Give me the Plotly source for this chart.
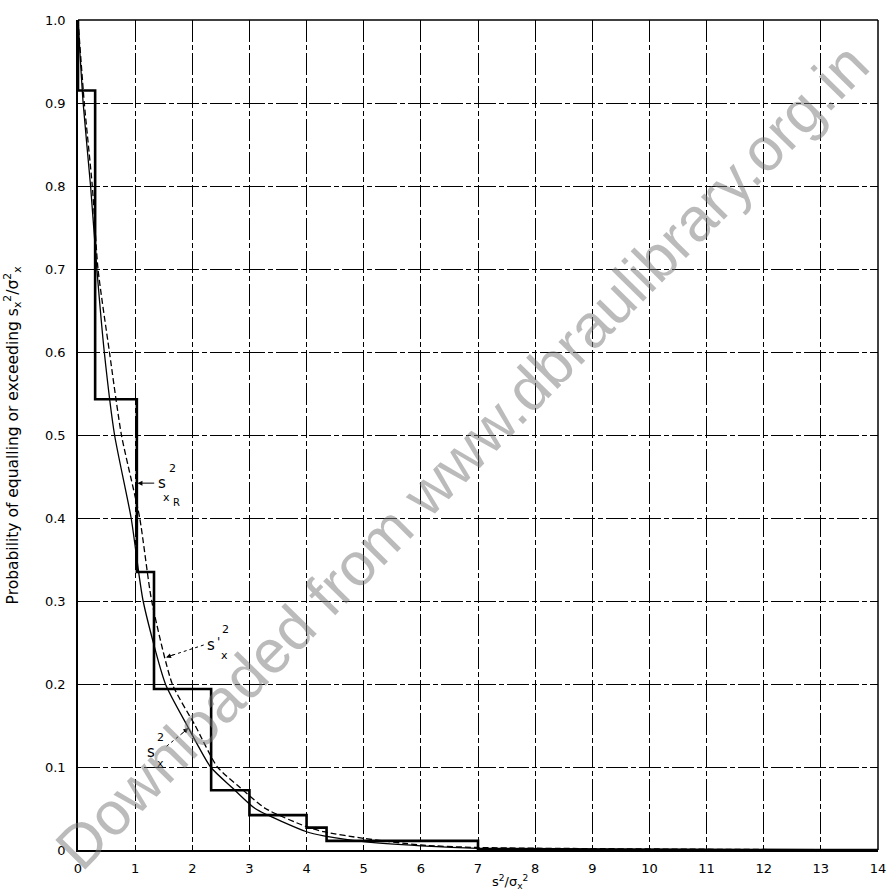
import plotly.graph_objects as go

# ---------------- data ----------------
x_ticks = list(range(0, 15))
y_ticks = [0, 0.1, 0.2, 0.3, 0.4, 0.5, 0.6, 0.7, 0.8, 0.9, 1.0]
y_tick_text = ["0", "0.1", "0.2", "0.3", "0.4", "0.5", "0.6", "0.7", "0.8", "0.9", "1.0"]

# step function s^2_xR
step_x = [0, 0, 0.30, 1.03, 1.33, 2.33, 3.00, 4.00, 4.35, 7.0, 14]
step_y = [1.0, 0.915, 0.543, 0.335, 0.194, 0.072, 0.042, 0.027, 0.011, 0.0, 0.0]

# solid curve s^2_x
solid_x = [0, 0.09, 0.22, 0.33, 0.46, 0.64, 0.93, 1.14, 1.53, 1.91, 2.32, 2.70, 3.10, 4.00, 4.30, 5.0, 6.0, 7.0, 14]
solid_y = [1.0, 0.9, 0.8, 0.7, 0.6, 0.5, 0.4, 0.3, 0.2, 0.15, 0.1, 0.075, 0.05, 0.022, 0.017, 0.010, 0.005, 0.002, 0.0]

# dashed curve s'^2_x
dashed_x = [0, 0.11, 0.25, 0.35, 0.55, 0.76, 1.08, 1.29, 1.65, 2.05, 2.44, 2.84, 3.28, 4.00, 4.30, 5.0, 6.0, 7.0, 14]
dashed_y = [1.0, 0.9, 0.8, 0.7, 0.6, 0.5, 0.4, 0.3, 0.2, 0.15, 0.1, 0.075, 0.05, 0.028, 0.022, 0.014, 0.006, 0.003, 0.0]

x_title = "s<sup>2</sup>/σ<sub>x</sub><sup>2</sup>"
y_title = "Probability of equalling or exceeding s<sub>x</sub><sup>2</sup>/σ<sup>2</sup><sub>x</sub>"
watermark = "Downloaded from www.dbraulibrary.org.in"

FONT = "DejaVu Sans"

fig = go.Figure()

fig.add_trace(go.Scatter(x=solid_x, y=solid_y, mode="lines",
                         line=dict(color="black", width=1.3, shape="spline", smoothing=0.6),
                         hoverinfo="skip", showlegend=False))
fig.add_trace(go.Scatter(x=dashed_x, y=dashed_y, mode="lines",
                         line=dict(color="black", width=1.3, dash="6px,3px", shape="spline", smoothing=0.6),
                         hoverinfo="skip", showlegend=False))
fig.add_trace(go.Scatter(x=step_x, y=step_y, mode="lines",
                         line=dict(color="black", width=2.6, shape="hv"),
                         hoverinfo="skip", showlegend=False))

annotations = []

def piece(x, y, text, size, dx=0, dy=0):
    annotations.append(dict(x=x, y=y, xref="x", yref="y", text=text, showarrow=False,
                            xshift=dx, yshift=dy, xanchor="center", yanchor="middle",
                            font=dict(family=FONT, size=size, color="black")))

# label s^2_xR with solid arrow
annotations.append(dict(x=1.04, y=0.442, ax=1.36, ay=0.442, xref="x", yref="y", axref="x", ayref="y",
                        text="", showarrow=True, arrowhead=2, arrowsize=1, arrowwidth=1,
                        arrowcolor="black"))
piece(1.47, 0.442, "s", 15, 0, 0)
piece(1.47, 0.442, "2", 11, 10, 15)
piece(1.47, 0.442, "x", 11, 4, -14)
piece(1.47, 0.442, "R", 10, 14, -19)

# label s'^2_x with dotted arrow
fig.add_trace(go.Scatter(x=[2.2, 1.62], y=[0.247, 0.234], mode="lines",
                         line=dict(color="black", width=1, dash="dot"),
                         hoverinfo="skip", showlegend=False))
annotations.append(dict(x=1.54, y=0.232, ax=1.70, ay=0.236, xref="x", yref="y", axref="x", ayref="y",
                        text="", showarrow=True, arrowhead=2, arrowsize=1, arrowwidth=1,
                        arrowcolor="black"))
piece(2.33, 0.247, "s", 15, 0, 0)
piece(2.33, 0.247, "'", 12, 7, 3)
piece(2.33, 0.247, "2", 11, 14, 15)
piece(2.33, 0.247, "x", 11, 13, -11)

# label s^2_x with dotted arrow
fig.add_trace(go.Scatter(x=[1.55, 1.85], y=[0.125, 0.142], mode="lines",
                         line=dict(color="black", width=1, dash="dot"),
                         hoverinfo="skip", showlegend=False))
annotations.append(dict(x=1.93, y=0.147, ax=1.80, ay=0.139, xref="x", yref="y", axref="x", ayref="y",
                        text="", showarrow=True, arrowhead=2, arrowsize=1, arrowwidth=1,
                        arrowcolor="black"))
piece(1.28, 0.118, "s", 15, 0, 0)
piece(1.28, 0.118, "2", 11, 9, 15)
piece(1.28, 0.118, "x", 11, 9, -11)

# axis titles
annotations.append(dict(x=0.54, y=-0.0386, xref="paper", yref="paper", text=x_title, showarrow=False,
                        xanchor="center", yanchor="middle", font=dict(family=FONT, size=13, color="black")))
annotations.append(dict(x=-0.082, y=0.50, xref="paper", yref="paper", text=y_title, showarrow=False,
                        textangle=-90, xanchor="center", yanchor="middle",
                        font=dict(family=FONT, size=15.5, color="black")))

# watermark
annotations.append(dict(x=0.48, y=0.475, xref="paper", yref="paper", text=watermark, showarrow=False,
                        textangle=-45.5, xanchor="center", yanchor="middle",
                        font=dict(family="Liberation Sans", size=61, color="rgba(120,120,120,0.5)")))

grid_dash = "22px,3px,5px,3px"

fig.update_layout(
    width=895, height=896,
    margin=dict(l=78, r=9, t=20, b=46),
    paper_bgcolor="white", plot_bgcolor="white",
    annotations=annotations,
    showlegend=False,
    xaxis=dict(range=[0, 14], tickvals=x_ticks, ticktext=[str(v) for v in x_ticks],
               showgrid=True, gridcolor="black", gridwidth=1.1, griddash=grid_dash,
               zeroline=False, showline=True, linecolor="black", linewidth=2.2, mirror=False,
               ticks="", ticklabelstandoff=5,
               tickfont=dict(family=FONT, size=13, color="black")),
    yaxis=dict(range=[0, 1.0], tickvals=y_ticks, ticktext=y_tick_text,
               showgrid=True, gridcolor="black", gridwidth=1.1, griddash=grid_dash,
               zeroline=False, showline=True, linecolor="black", linewidth=1.5, mirror=False,
               ticks="", ticklabelstandoff=8,
               tickfont=dict(family=FONT, size=13, color="black")),
)

# top and right borders
fig.add_shape(type="line", xref="paper", yref="paper", x0=0, x1=1, y0=1, y1=1,
              line=dict(color="black", width=1.5))
fig.add_shape(type="line", xref="paper", yref="paper", x0=1, x1=1, y0=0, y1=1,
              line=dict(color="black", width=1.5))

fig.write_html("out.html", config={"displayModeBar": False},
               post_script="document.body.style.margin='0';document.body.style.padding='0';")
